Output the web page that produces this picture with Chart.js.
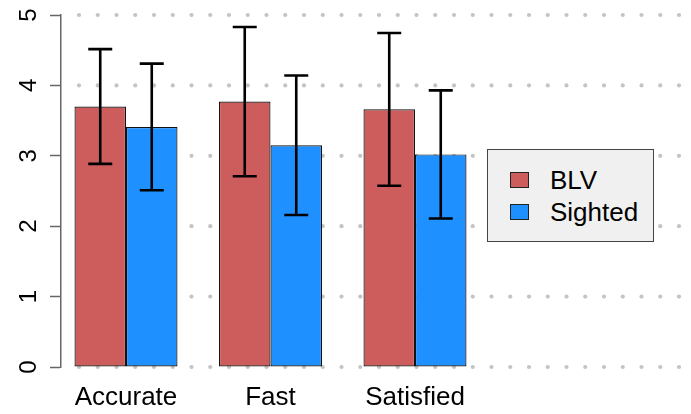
<!DOCTYPE html>
<html>
<head>
<meta charset="utf-8">
<script src="https://cdn.jsdelivr.net/npm/chart.js@4.4.1/dist/chart.umd.min.js"></script>
<style>
  body { margin: 0; background: #fff; }
  #wrap { position: relative; width: 691px; height: 414px; }
  #legend {
    position: absolute; left: 487px; top: 149px;
    width: 165px; height: 77px; padding-top: 14px;
    background: #f0f0f0; border: 1px solid #444;
    font-family: 'Liberation Sans', Arial, sans-serif; font-size: 26px; color: #000;
  }
  #legend .row { display: flex; align-items: center; height: 32px; }
  #legend .box { width: 17px; height: 14px; margin-left: 22px; border: 1px solid #222; }
  #legend .txt { margin-left: 21px; }
</style>
</head>
<body>
<div id="wrap">
  <canvas id="chart" width="691" height="414"></canvas>
  <div id="legend"></div>
</div>
<script>
const categories = ['Accurate', 'Fast', 'Satisfied'];
const groups = ['BLV', 'Sighted'];
const blvMean = [3.70, 3.77, 3.66];
const blvSd = [0.815, 1.06, 1.085];
const sightedMean = [3.41, 3.15, 3.02];
const sightedSd = [0.90, 0.99, 0.91];
const yTicks = [0, 1, 2, 3, 4, 5];
const colors = ['#CD5C5C', '#1E90FF'];

Chart.defaults.font.family = "'Liberation Sans', Arial, sans-serif";
Chart.defaults.color = '#000';

// dotted horizontal guides at every y tick, behind the bars
const dottedGrid = {
  id: 'dottedGrid',
  beforeDatasetsDraw(chart) {
    const ctx = chart.ctx, y = chart.scales.y, area = chart.chartArea;
    ctx.save();
    ctx.fillStyle = '#c4c4c4';
    yTicks.forEach(v => {
      const py = y.getPixelForValue(v);
      for (let px = area.left + 18; px < area.right + 3; px += 18.75) {
        ctx.beginPath();
        ctx.arc(px, py, 2.1, 0, Math.PI * 2);
        ctx.fill();
      }
    });
    ctx.restore();
  }
};

// mean +/- sd whiskers on each bar
const errorBars = {
  id: 'errorBars',
  afterDatasetsDraw(chart) {
    const ctx = chart.ctx, y = chart.scales.y;
    ctx.save();
    ctx.strokeStyle = '#000';
    ctx.lineWidth = 2.6;
    chart.data.datasets.forEach((ds, d) => {
      chart.getDatasetMeta(d).data.forEach((bar, i) => {
        const m = ds.data[i].y, s = ds.errorSd[i];
        const top = y.getPixelForValue(m + s), bot = y.getPixelForValue(m - s);
        ctx.beginPath();
        ctx.moveTo(bar.x, top); ctx.lineTo(bar.x, bot);
        ctx.moveTo(bar.x - 12, top); ctx.lineTo(bar.x + 12, top);
        ctx.moveTo(bar.x - 12, bot); ctx.lineTo(bar.x + 12, bot);
        ctx.stroke();
      });
    });
    ctx.restore();
  }
};

const means = [blvMean, sightedMean];
const sds = [blvSd, sightedSd];

const chart = new Chart(document.getElementById('chart'), {
  type: 'bar',
  data: {
    datasets: groups.map((g, k) => ({
      label: g,
      data: categories.map((c, i) => ({ x: i + 1, y: means[k][i] })),
      errorSd: sds[k],
      backgroundColor: colors[k],
      borderColor: '#111',
      borderWidth: 1.2,
      borderSkipped: false,
      categoryPercentage: 0.713,
      barPercentage: 1
    }))
  },
  options: {
    responsive: false,
    animation: false,
    layout: { padding: { top: 15, left: 0, right: 0, bottom: 0 } },
    plugins: { legend: { display: false }, tooltip: { enabled: false } },
    scales: {
      x: {
        type: 'linear',
        offset: false,
        bounds: 'data',
        min: 0.5502,
        max: 4.9101,
        afterBuildTicks: s => { s.ticks = categories.map((c, i) => ({ value: i + 1 })); },
        afterFit: s => { s.height = 47; s.paddingLeft = 0; s.paddingRight = 0; },
        grid: { display: false, drawTicks: false, offset: false },
        border: { display: false },
        ticks: {
          callback: v => categories[v - 1] || '',
          font: { size: 26 },
          padding: 15,
          maxRotation: 0,
          autoSkip: false
        }
      },
      y: {
        min: 0,
        max: 5,
        afterFit: s => { s.width = 61; s.paddingTop = 0; s.paddingBottom = 0; },
        grid: { drawOnChartArea: false, drawTicks: true, tickLength: 11, tickColor: '#666', tickWidth: 1.5 },
        border: { display: true, color: '#666', width: 1.5 },
        ticks: {
          stepSize: 1,
          font: { size: 24 },
          minRotation: 90,
          maxRotation: 90,
          crossAlign: 'center',
          padding: 13.5
        }
      }
    }
  },
  plugins: [dottedGrid, errorBars]
});

// legend box built from the chart's datasets
document.getElementById('legend').innerHTML = chart.data.datasets.map(ds =>
  `<div class="row"><span class="box" style="background:${ds.backgroundColor}"></span><span class="txt">${ds.label}</span></div>`
).join('');
</script>
</body>
</html>
